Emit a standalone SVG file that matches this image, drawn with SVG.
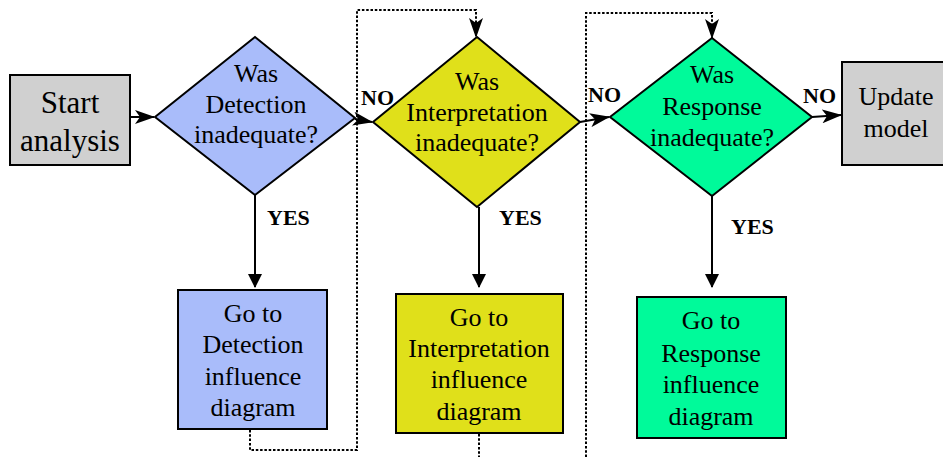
<svg xmlns="http://www.w3.org/2000/svg" width="943" height="457" viewBox="0 0 943 457" font-family="'Liberation Serif', 'Times New Roman', 'DejaVu Serif', serif">
<defs>
<marker id="barb" markerUnits="userSpaceOnUse" markerWidth="20" markerHeight="14" viewBox="0 0 20 14" refX="19" refY="7" orient="auto">
<path d="M0,0 L20,7 L0,14 L5,7 z" fill="#000"/>
</marker>
<marker id="tri" markerUnits="userSpaceOnUse" markerWidth="14" markerHeight="14" viewBox="0 0 14 14" refX="13" refY="7" orient="auto">
<path d="M0,0 L14,7 L0,14 z" fill="#000"/>
</marker>
</defs>
<style>
text{font-family:'Liberation Serif','Times New Roman','DejaVu Serif',serif}
.t{font-size:26px;text-anchor:middle;fill:#000}
.b{font-size:22px;font-weight:bold;fill:#000}
.s{stroke:#000;stroke-width:2}
.c{fill:none;stroke:#000;stroke-width:2}
.d{fill:none;stroke:#000;stroke-width:2;stroke-dasharray:2.5 1.8}
</style>
<g id="connectors">
<path class="c" d="M130,117 H154" stroke-width="3" marker-end="url(#barb)"/>
<path class="c" d="M355,119 L372,122" marker-end="url(#barb)"/>
<path class="c" d="M580,122 L609,117" marker-end="url(#barb)"/>
<path class="c" d="M812,117 L841,115" marker-end="url(#barb)"/>
<path class="c" d="M255,195 V287" marker-end="url(#tri)"/>
<path class="c" d="M479,207 V287" marker-end="url(#tri)"/>
<path class="c" d="M712,196 V287" marker-end="url(#tri)"/>
<path class="d" d="M250,430 V450 H357 V10 H476 V37" marker-end="url(#barb)"/>
<path class="d" d="M479,434 V457"/>
<path class="d" d="M586,457 V13 H712 V38" marker-end="url(#barb)"/>
<text class="b" x="361" y="105">NO</text>
<text class="b" x="588" y="102">NO</text>
<text class="b" x="803" y="103">NO</text>
<text class="b" x="267" y="225">YES</text>
<text class="b" x="499" y="225">YES</text>
<text class="b" x="731" y="234">YES</text>
</g>
<g id="start">
<rect class="s" x="10" y="75" width="120" height="90" fill="#d0d0d0"/>
<text class="t" style="font-size:31px" x="70" y="113">Start</text>
<text class="t" style="font-size:31px" x="70" y="151">analysis</text>
</g>
<g id="q-detection">
<polygon class="s" points="255,37 355,118 255,195 155,117" fill="#a9bcfa"/>
<text class="t" x="256" y="82">Was</text>
<text class="t" x="256" y="113">Detection</text>
<text class="t" x="256" y="143">inadequate?</text>
</g>
<g id="q-interpretation">
<polygon class="s" points="477,37 580,122 477,207 373,122" fill="#e0e01a"/>
<text class="t" x="477" y="90">Was</text>
<text class="t" x="477" y="121">Interpretation</text>
<text class="t" x="477" y="151">inadequate?</text>
</g>
<g id="q-response">
<polygon class="s" points="712,38 812,117 712,196 610,117" fill="#00fa9a"/>
<text class="t" x="712" y="83">Was</text>
<text class="t" x="712" y="115">Response</text>
<text class="t" x="712" y="146">inadequate?</text>
</g>
<g id="update">
<rect class="s" x="842" y="62" width="102" height="103" fill="#d0d0d0"/>
<text class="t" x="896" y="105">Update</text>
<text class="t" x="896" y="137">model</text>
</g>
<g id="box-detection">
<rect class="s" x="178" y="290" width="149" height="139" fill="#a9bcfa"/>
<text class="t" x="253" y="322">Go to</text>
<text class="t" x="253" y="353">Detection</text>
<text class="t" x="253" y="385">influence</text>
<text class="t" x="253" y="416">diagram</text>
</g>
<g id="box-interpretation">
<rect class="s" x="396" y="294" width="167" height="139" fill="#e0e01a"/>
<text class="t" x="479" y="326">Go to</text>
<text class="t" x="479" y="357">Interpretation</text>
<text class="t" x="479" y="388">influence</text>
<text class="t" x="479" y="420">diagram</text>
</g>
<g id="box-response">
<rect class="s" x="637" y="297" width="149" height="141" fill="#00fa9a"/>
<text class="t" x="711" y="329">Go to</text>
<text class="t" x="711" y="362">Response</text>
<text class="t" x="711" y="393">influence</text>
<text class="t" x="711" y="425">diagram</text>
</g>
</svg>
